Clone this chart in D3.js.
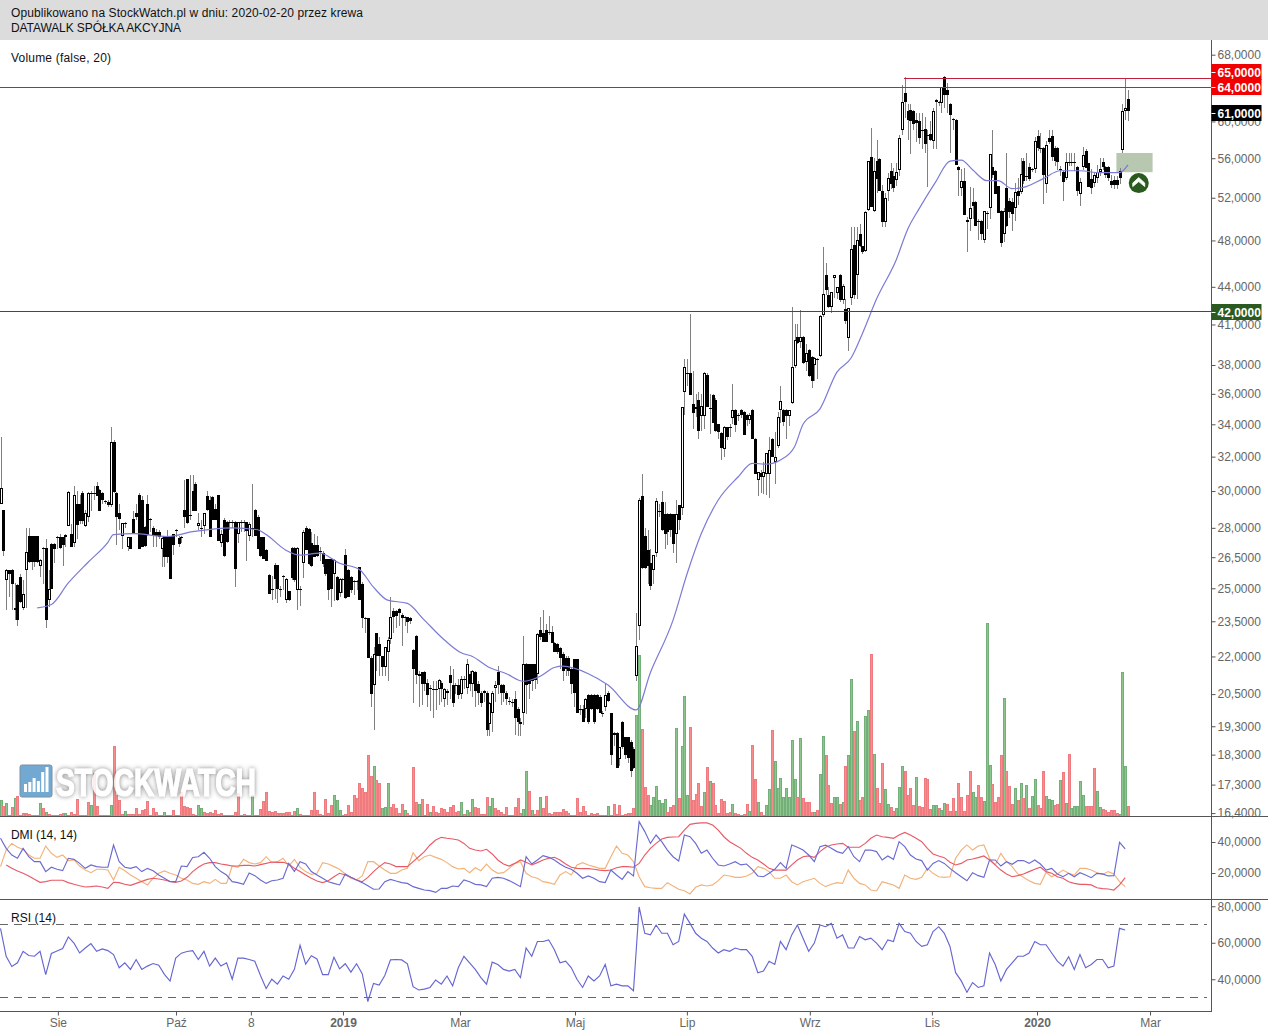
<!DOCTYPE html>
<html lang="pl"><head><meta charset="utf-8"><title>DATAWALK</title>
<script src="https://cdn.jsdelivr.net/npm/d3@7"></script>
<style>html,body{margin:0;padding:0;background:#fff}svg{display:block;font-family:"Liberation Sans",Arial,sans-serif}</style>
</head><body><div id="chart"></div>
<script>
// ---- candles: [open, high, low, close] per session ----
const candlesA=[[29.3,33.2,29.3,30.2],[28.95,28.95,26.55,26.8],[25.4,25.9,24,25.85],[25.85,25.85,24.6,25.7],[25.85,25.9,24,25.2],[24.1,25.25,23.55,24],[25.15,25.2,23.3,23.55],[25.55,25.7,24.3,24.35],[24.1,25.4,24,24.75],[25.85,28,24.1,26.75],[27.55,28,26.2,26.25],[27.55,27.55,25.85,26.25],[27.55,27.55,26,26.25],[27.55,27.55,26.2,26.25],[26.05,26.4,25.55,26.35],[26.95,27,25.2,26.9],[26.95,27.4,23.2,23.55],[24.45,25.85,24.15,24.95],[27.15,27.2,24.95,24.95],[27.15,27.2,26.2,26.9],[27.5,27.6,26.9,27.45],[27.5,27.7,26.9,26.95],[27.5,27.5,26.05,27.1],[27.5,27.7,27,27.65],[28.1,30,28.1,29.95],[27.7,28.2,27,27],[27.2,30.3,27,29.8],[29.3,30,27.4,28.15],[29.3,29.8,28.2,28.35],[29.9,30,28.2,28.35],[28.1,28.95,28.05,28.8],[28.55,29.95,28.3,29.9],[29.9,30,28.9,29.85],[29.9,30.3,29.5,29.85],[30.3,30.5,29.7,29.75],[30.05,30.1,28.9,28.9],[29.9,29.95,29.3,29.5],[29.45,29.5,29.3,29.4],[29.4,29.5,29.1,29.25],[29.2,33.8,29.1,32.9],[32.9,33,29.9,29.95],[29.9,29.95,27.1,28.55],[28.8,29.3,27.9,28.45],[27.55,28.25,26.9,28.25],[28.25,28.3,28,28.2],[27,27.5,26.8,27.5],[27.5,27.5,26.9,26.9],[28.45,28.9,27.7,27.7],[28.8,29.3,28.4,28.6],[29.8,29.9,26.9,26.9],[29.5,29.7,27,27],[28.05,28.1,27,27.05],[29.3,29.8,27.6,27.65],[28.45,28.5,27.8,28.4],[28,28.1,27,27.6],[27.8,27.95,27,27.55],[27.8,27.9,27.4,27.5],[26.9,27.5,26,27.45],[27.5,27.5,26,26.5],[27.5,27.9,26.2,26.5],[27.55,27.6,25.45,25.45],[27.7,27.7,26.6,27.1],[27.9,27.95,27.5,27.85],[27.45,27.6,27,27.15],[27.5,27.55,27.2,27.45],[28.95,30.6,28,28.55],[30.7,30.7,28.2,28.25],[28.7,30.9,28.4,28.65],[30,30.9,28.9,28.9],[30.4,30.5,28.9,28.9],[28.1,28.8,27.9,28.25],[28,28.4,27.5,27.95],[28.1,28.8,27.7,28.8],[29.7,30,28.9,28.95],[29.5,29.7,27.5,27.5],[29.65,29.7,28.4,28.4],[29,29.3,28.4,28.4],[29.8,29.8,27.3,27.3],[27.2,27.9,27,27.7],[28.4,28.5,26.5,26.55],[28.3,28.35,27.2,27.25],[28.3,28.4,27.9,28.25],[28.3,28.4,28,28.25],[28.3,28.35,25.05,25.9],[27.7,28.3,27.2,28.3],[28.3,28.4,27.8,28.25],[28.3,28.4,27.8,28.25],[28.3,28.3,26.3,27.85],[27.6,28.3,27.3,28.2],[28,30.4,27.5,27.95],[28.95,29,27.6,27.6],[28.6,28.7,26.9,26.9],[27.5,27.5,26.5,26.55],[27.5,27.5,26.4,26.4],[26.85,26.9,26.3,26.3],[25.65,25.7,24.75,24.75],[24.95,25.6,24.45,24.9],[26.1,26.2,24.5,25.45],[26.1,26.1,24.3,24.95],[24.95,25.1,24.6,24.9],[25.6,25.65,24.9,25.55],[24.45,25.5,24.3,25.45],[24.85,24.85,24.4,24.45],[26.95,27,25.4,25.5],[26.95,27,25.3,25.4],[24.9,27,24,26.95],[24.95,25.1,24.2,24.9],[26.2,27.9,25.5,27.8],[28,28.1,26.85,26.85],[27.95,28,26.1,26.15],[27.2,27.8,26,26.05],[27.1,27.7,26.5,26.5],[27.1,27.6,26.5,26.55],[26.8,27,26.3,26.75]];
const candlesB=[[26.7,26.8,26,26.15],[26.4,26.4,25.6,25.7],[26.4,26.4,24.45,24.9],[26.4,26.4,24.15,24.95],[25.7,26.4,24.4,26.35],[25.55,25.6,24.4,24.45],[24.8,25.5,24.6,25.45],[25.45,25.5,24.8,25.4],[26.6,26.9,24.5,24.55],[25.85,25.9,24.6,24.6],[25.55,25.6,24.8,24.9],[25.35,25.4,24.7,25.3],[25.35,25.4,24.9,25.3],[26,26,24.45,24.45],[25.2,25.3,23.2,23.65],[23.65,23.7,23,23.6],[23.65,23.65,21.95,21.95],[21.95,22,20,20.5],[20.85,22.4,19.15,22.1],[23,23,21.4,22],[22.5,22.8,21.2,22],[22,22,21.2,21.55],[21.55,22.4,21.2,22.4],[22.2,22.8,21,22.7],[22.75,24.6,22.5,23.7],[23.95,24.1,23,23.7],[23.95,24,23.2,23.75],[24.05,24.1,23.3,23.85],[23.8,23.85,22.45,23.65],[23.7,23.75,23.3,23.65],[23.7,23.7,23,23.45],[23.65,23.7,23.4,23.5],[22.25,22.3,20.15,21.5],[22.85,22.9,20.9,21.25],[21.3,21.4,20,21.2],[21.35,21.35,20.1,20.9],[21.35,21.4,20.6,20.9],[20.95,21.1,20,20.45],[20.75,20.85,19.85,20.7],[20.7,21,19.6,20.65],[20.7,21,19.9,20.65],[20.7,21.1,20.1,21.05],[20.95,21,20.2,20.7],[20.3,20.75,20,20.7],[20.6,20.7,20.1,20.55],[21.25,21.6,20.3,20.95],[20.85,21.5,20,20.15],[20.85,20.95,20.5,20.8],[20.85,21.1,20.3,20.45],[20.5,21.2,20.3,21.1],[21.1,21.2,20.7,21.05],[20.75,21.9,20.5,21.7],[21.3,21.4,20.6,20.9],[20.9,21.45,20.4,21.4],[21.35,21.4,20,20.6],[20.9,21,20.1,20.55],[20.55,20.6,20,20.15],[20.6,20.65,20.2,20.55],[20.55,20.6,18.95,19.15],[19.4,20.2,18.95,20.15],[19.8,20.6,19.1,20.55],[20.75,21,20.2,20.85],[21.35,21.6,20.5,20.85],[20.85,20.9,20.1,20.55],[20.85,20.9,20.2,20.55],[20.55,20.6,20.1,20.3],[20.25,20.4,20.1,20.2],[20.2,20.3,20,20.15],[20.3,20.6,19,19.6],[19.95,20,18.95,19.45],[19.45,19.6,18.95,19.4],[19.8,22.85,19.35,21.7],[21.7,21.75,19.75,20.85],[21.7,21.7,20.3,20.9],[21.7,21.7,20.6,21],[21.7,21.7,20.7,21.05],[21.3,23,20.9,22.95],[23.1,23.7,22.7,22.8],[23,24,22.6,22.6],[23.1,23.4,22.6,22.6],[23.05,23.75,22.9,23],[23.05,23.3,22.55,22.55],[22.55,22.6,22.2,22.2],[22.5,22.55,22.1,22.2],[22.35,22.4,21.5,21.95],[22.1,22.2,21,21.4],[21.95,22,21.2,21.5],[21.95,22,21.2,21.4],[21.5,21.55,20.5,20.9],[21.9,21.9,20,20.55],[21.9,21.9,19.8,19.8],[19.95,20.1,19.7,19.9],[19.95,20.1,19.45,19.45],[19.95,20.35,19.6,20.3],[20.45,20.5,19.4,19.45],[20.45,20.5,19.9,19.95],[20.45,20.5,19.4,19.45],[20.45,20.5,19.9,19.95],[20.4,20.45,19.8,19.8],[19.8,19.85,19.65,19.75],[20,20.9,19.85,20.45],[20.55,20.6,20.2,20.25],[19.8,19.8,17.95,18.3],[19.05,19.1,18.6,19],[19.05,19.1,17.85,17.85],[18.15,18.55,17.9,18.55],[19.45,19.5,18.5,18.55],[18.9,18.9,18.15,18.3],[18.9,18.9,18,18.2],[18.75,18.8,17.55,17.75],[18.5,18.55,17.8,17.85],[21.2,23.85,21,22.45]];
const candlesC=[[23.3,29.6,22.7,29.5],[29.7,31,25.9,25.95],[27.6,28,25.9,25.95],[26.85,27.9,25.2,26.05],[26.2,26.9,24.9,25.1],[25.85,26.6,25.2,26.6],[26.7,29.6,26.5,29.45],[28.9,29.3,28.6,28.85],[29.4,30,27.85,27.9],[28.75,29.4,26.9,27.7],[28.75,28.8,27.1,27.8],[28.75,28.8,27.5,27.9],[28.75,28.75,26.7,27.15],[27.7,29.5,26.2,28.75],[29.25,29.25,27.9,28.4],[29.05,35.1,28.7,35.1],[36.1,38.4,34.6,37.85],[37.4,38.4,36.5,37.35],[37.45,41.8,35.9,35.95],[35.3,37.6,33.7,34.75],[35.1,36,34.5,35],[35.6,36.1,33.1,33.6],[34.55,36,33.6,35.2],[34.55,37.5,33.7,37.45],[37.3,37.4,35.15,35.15],[35.05,36,33.4,35],[35.9,36,34.1,34.1],[35.6,35.7,33.5,33.55],[34,34.05,33.05,33.5],[33.45,33.5,31.8,32.5],[32.45,33.9,32,33.85],[33.8,33.85,33,33.2],[33.8,34,33.2,33.75],[34.4,36.7,34,34.95],[34.95,35,33.5,33.95],[34.6,34.7,34.2,34.55],[34.95,35,34.4,34.6],[34.8,34.85,33.3,33.35],[34.6,34.65,33.9,34.3],[34.3,34.7,34,34.6],[34.95,35,33.1,33.1],[33.1,33.15,30.95,30.95],[30.6,31.1,29.7,31.1],[31.05,31.2,29.9,30.8],[30.8,31.7,29.85,31.1],[30.95,32.2,29.8,32.2],[30.95,33.2,29.6,32.4],[33.05,33.15,31.95,31.95],[31.7,33.5,30.4,31.95],[32.65,34.8,32.5,34.5],[34.95,36.5,34.1,35.5],[34.95,35,33.9,34.15],[34.9,35,33.1,34.55],[34.55,34.95,33.9,34.95],[35.4,42.4,35.3,37.85],[37.9,41,37.8,39.8],[40.05,41,39.5,39.6],[39.7,42.1,39.2,40.05],[40.05,40.1,38.1,38.15],[38.2,39.5,37.6,38.9],[39.1,39.15,37.15,37.2],[38.6,38.65,36.4,36.85],[38,38.6,36.9,38.5],[38.45,38.5,37,38.4],[38.65,41.7,38.6,41.65],[41.7,47.4,41.6,43.4],[45,46,43.3,43.7],[43.35,44,42.3,42.4],[42.4,43.6,41.9,43.55],[44.7,45,43.1,45],[43.5,44,43,44],[45,45.1,42.8,42.9],[42.95,44.2,42.6,44.1],[42.2,43,41,41.25],[40,42.3,39,42.25]];
const candlesD=[[43.1,49.2,42.5,47.2],[47.6,49.2,43,43.35],[45,49.2,43,48],[48.6,49.5,47.4,47.5],[47.5,47.5,46.8,46.95],[47.1,50.7,47,50.65],[50.8,55.7,50.7,55.7],[56.1,59.3,51.1,51.1],[50.7,56,50.6,54.7],[55.7,58,52.5,53.9],[55.9,56,52.7,52.7],[52.7,53.3,49.2,49.7],[49.7,52.5,49.2,52],[52.7,54.5,51.7,54],[54.7,55.5,52.9,53.4],[54.2,55,52.6,53],[53.75,55.5,53.2,54.6],[54.8,58.5,54.2,58.2],[59,64.2,58.5,62.2],[63.3,65.2,60.4,62.2],[61.2,62,58,60.2],[61.3,62,56.4,60.1],[61.2,61.3,59,59.7],[60.2,61,57.7,59.8],[60,61,57.5,58.2],[59.05,61,57,59],[59.1,60.5,56.6,57.5],[58.5,59,53.1,58.4],[58.6,60,57.8,57.9],[57.8,61.5,57,61.2],[62.5,62.6,57,62.25],[62.2,62.3,61.8,62.15],[62.1,64,61,64],[65.2,65.3,61.5,63],[63.6,64.5,61,63.1],[62,62.1,56.5,60.7],[60.3,60.4,59,60.25],[60.2,60.25,55.3,55.3],[55.1,55.2,52.2,54.8],[53,54.9,52.2,53.7],[53.7,55,50.3,50.3],[49.9,50.2,47,49.7],[50,53.1,48.9,51],[51.6,53,50,51.2],[51.6,51.7,49.3,49.3],[49.8,50,48,49.75],[49.8,49.85,48,48.55],[48,50.7,47.8,50.7],[50.5,50.7,49,50.4],[51,56.4,50,56.4],[55.1,59,54,54.25],[54.7,54.8,52.4,52.4],[53.2,53.2,50.5,50.5],[50.7,50.8,47.4,47.8],[48.6,51,47.9,50.7],[53,56.5,49.2,49.3],[51.7,52,50.1,50.6],[51.6,52,48.9,50.4],[51,53.5,49.8,52.6],[52.7,54,51.3,52.2],[52.6,56,52.4,54.35],[55.7,56,53.4,53.7],[54.2,56.5,53.7,54.15],[55.1,55.5,53.7,53.9],[54.9,55,54.6,54.85],[54.9,58.3,54.5,57.8],[58.4,59,56.8,57.1],[57.1,58.7,56.5,57.05],[57.1,57.2,51.4,54.3],[53.4,57.8,52.5,57.4],[58.2,59,57.5,57.7],[58.4,59,55.7,56.15],[57.1,57.3,55.2,55.7],[57.1,57.2,54.8,55.6],[54.9,55.2,54.2,54.85],[54.6,54.7,51.7,53.6],[54,56.5,53.8,55.6],[55.6,56.5,55.2,55.55],[55.6,56.5,55.2,55.55],[55.6,56.5,54.7,55.55],[55.1,55.2,52.2,52.7],[52.4,54,51.2,53.6],[55.1,57.2,54.8,56.3],[56.8,57,55,55],[55.5,55.5,53.1,53.1],[53.9,54.9,52.4,53],[53.5,54.6,53.1,54.3],[54,55.3,53.5,54.6],[54.6,56,54.2,54.9],[55.6,56,54.8,55.1],[55.1,55.2,54,54.3],[55.1,55.2,53.7,54],[53.7,54.3,53,53.3],[53.8,54.2,52.9,53.3],[53.8,54.2,52.9,53.3],[54.7,55,53.4,54],[56.9,62,56.5,61.2],[61.2,65,60.2,61.5],[62.6,63.6,60,61.2]];

// ---- 20-session average: session index / price ----
const maIndex=[13,18,24,31,38,40,47,59,68,82,91,94,101,106,113,120,127,132,137,144,150,157,163,167,173,179,185,191,196,199,208,215,225,230,238,243,248,254,261,266,271,276,281,284,290,296,301,305,310,317,321,325,331,336,340,344,349,353,358,363,369,375,382,389,396,399];
const maPrice=[24.1,24.25,25.25,26.25,27.25,27.65,27.7,27.55,27.8,28,27.9,27.65,26.85,26.6,26.7,26.2,25.9,25.05,24.45,24.3,23.55,22.7,22.15,22,21.55,21.3,21,21.2,21.55,21.6,21.3,20.85,19.9,21.35,23.55,25.7,27.7,29.5,30.8,31.6,31.55,31.8,32.6,34,35,37.5,38.5,40.3,43,46.3,49,50.9,53.6,55.7,55.8,54.8,53.7,53.7,52.9,53.1,53.9,54.7,54.7,54.5,54.5,55.3];

// ---- volume per session (chart units) ----
const volumeA=[16,10,13,1,9,18,20,1,3,3,2,1,1,1,13,8,4,2,1,1,1,2,3,3,1,4,2,17,1,1,1,14,11,43,10,1,1,1,1,11,70,21,16,2,5,2,2,2,8,2,6,7,15,1,8,4,1,1,4,1,1,6,1,1,24,10,9,8,2,1,11,8,4,3,4,3,6,2,3,1,1,1,1,4,23,1,2,1,1,21,1,1,7,15,24,5,4,5,3,3,3,4,4,1,5,8,2,1,1,1,6,24,6,2,1,17,3,11,21,16,6,1,2,11,4,21,18,33,28,24,61,40,50,36,33,8,9,33,9,12,8,3,12,6,3,1,49,14,12];
const volumeB=[17,1,12,4,10,4,3,8,7,4,9,11,4,5,14,2,6,4,17,9,8,2,2,19,10,18,8,6,4,2,9,1,1,9,18,3,7,45,25,6,2,6,19,8,20,3,2,4,4,4,7,5,3,1,1,18,4,10,5,1,3,2,3,1,1,1,10,1,12,2,11,1,2,3,3,8,101,161,87,29,21,11,19,30,16,13,17,4,9,11,88,18,70,120,21,89,16,22,33,10,24,49,35,33,11,3,17,15,3,4,12,3,2,1,2,12,5,71,37,14,4,1,11,27,86,55,28,38,19,28,19,76,37,19,78,18,14,14,4,4,6,42,80,61,31,13,19,19];
const volumeC=[12,14,50,61,137,85,95,16,19,100,106,162,62,28,13,53,27,12,9,5,8,29,50,45,21,28,11,39,10,9,38,37,7,11,11,8,6,13,12,5,18,5,33,19,5,21,45,24,19,31,19,15,193,51,32,14,19,61,118,45,30,12,28,16,33,18,31,8,20,37,11,8,45,20,17,16,11,12,36,44,13,62,8,10,10,35,21,10,10,10,48,25,9,7,6,4,6,6,3,2,144,50,10];
const greenVolumeSessions=[0,2,5,14,16,23,24,32,39,44,58,70,71,89,105,118,119,120,132,135,136,137,143,148,152,163,165,167,173,174,185,186,188,191,215,225,226,230,231,232,233,234,235,239,241,242,243,249,251,259,265,268,271,272,274,275,276,277,278,279,280,281,283,288,290,291,295,296,298,300,301,303,306,307,309,313,314,317,318,319,324,330,331,333,334,338,344,345,348,349,350,355,359,361,363,365,366,370,371,372,375,377,379,380,381,382,383,388,389,396,397,398];

// ---- DMI, read every second session (k = session / 2) ----
const dmiPlusA=[42.4,35.9,31.6,29.5,35.9,30.5,27.3,27.3,20.9,23.7,22.4,21.5,29.5,28.8,26.2,23,25.2,24.1,23.7,23.7,38,27.3,23.7,23,24.1,20.9,23,21.5,18.7,16.6,14.4,14.4,24.5,24.1,30,30.5,33.3,29.5,24.1,20.9,18.7,14.4,13.8,12.7,20,18.3,15.5,13.3,15,15.5,16.6,26.2,21,27.3,25.8,20.9,18.7,16.6,14.4,13.3,12.3,19.3,17.2,15.5,13.8,11.7,9.5,9.7,14.4,15.9,14.8,13.8,13.3,11.2,10.1];
const dmiPlusB=[9,8.6,7.5,10.1,10.1,11.6,11.2,15.5,14.4,12.7,12.3,11.2,16.6,17.2,16.6,15.1,13.3,11.2,30.5,25.8,28.4,31.2,30.1,28.4,25.8,23.7,22.4,19.8,16.6,18.1,16.6,14.4,13.8,21.9,18.7,15.9,20.9,18.1,53.1,46.7,39.1,44.5,40.2,34.8,30.5,27.7,44.5,43.4,39.1,32.7,34.8,29.5,25.2,24.5,25.8,27.3,25.2,25.8,22.4,18.1,17.6,19.8,22.4,26.7,23,38.1,36.6,34.8,31.6,27.3,37,38,35.9,33.8];
const dmiPlusC=[32.7,37,30.5,27.3,34.8,34.8,33.8,28.4,31,28.8,40.2,37,31.6,29,28,21.9,26.2,28,26.2,23,20.2,17.6,15,20.2,18.3,17.2,28.4,28.4,24.5,27.3,25.6,28,28,26.2,28.4,25.8,21.9,23,19.4,17.6,19.8,17.6,20.2,18.7,17,19.8,19.4,18.1,18.3,39.8,35.5];
const dmiMinusA=[24.1,34.8,39.1,36.6,35.3,31.6,29.5,29.5,37.4,32.7,30.1,31.6,28,28.4,24.5,21.9,20.2,22.4,22.4,21.9,15.5,23.7,21.5,18.7,16.6,14.4,12.3,16.6,19.8,21.3,19.8,18.7,16.6,15.5,13.3,12.7,14.4,13.3,15.9,13.3,13.3,24.5,23.7,28.8,26.7,25.8,26.7,30.5,26.7,27.3,29.5,24.5,28.8,23.7,20.9,19.1,19.8,26.7,25.8,24.1,22.4,19.4,16.6,15.5,18.1,27.3,27.3,24.5,21.9,19.8,19.8,21.9,23,33.1,28];
const dmiMinusB=[30.5,31.6,30.1,28.8,26.7,24.1,22.6,23,20.2,23.4,21.5,25.8,21.9,19.8,20.2,23,26.2,27.3,19.8,17.6,16.6,14.4,13.8,12.7,18.7,20.9,18.7,25.2,26.7,25.2,24.1,23,23,30.5,37.4,32.7,31.6,27.3,17.6,11.2,10.5,10.1,10.1,13.8,11.6,9.5,8.6,6.5,10.8,12.3,11.6,12.3,15.1,18.7,18.1,17.2,17.2,18.1,19.8,24.1,23,20.9,16.6,16.6,18.7,14.4,12.3,14.4,15.5,16.6,13.3,11.2,12.7,13.8];
const dmiMinusC=[13.3,21.9,16.6,13.3,12.3,9,8.4,14.4,13.3,12.3,10.1,18.7,16.6,15.9,17.2,23,19.8,17.6,17.2,17.6,29.5,34.8,38.1,34.8,37.4,38.1,29.5,25.2,32.7,27.3,24.1,19.4,17.2,15,13.3,12.7,20.4,17.6,19.4,21.9,19.8,18.7,23,23,21.9,20.2,19.1,20.9,19.4,14.4,11.2];
const adxA=[null,25.2,23,21.3,19.8,18.1,15.9,14,14.4,15.3,15.3,15.3,13.8,12.7,11.8,11,11.2,11.6,11,10.1,14,13.8,12.7,12,13.3,14.6,15.9,16.6,16.1,15.5,14.6,14,14.8,17.2,20.9,23.7,25.8,26.7,26.7,25.8,25.2,24.5,24.5,24.9,24.9,24.5,25.4,26.2,27.1,26.9,26.9,25.8,23,20.9,18.7,16.6,14.8,13.8,15,17.6,19.8,18.7,17.2,15.5,14.4,17.2,20.9,24.1,26.7,25.8,24.1,24.1,24.1,27.3,30.5];
const adxB=[33.8,38.1,41.3,43,42.4,41.9,41.3,39.1,35.9,34.8,34.2,35.3,32.3,28.4,25.8,24.5,26.2,28.4,26.9,25.2,26.7,28.4,29.5,30.1,28.4,25.8,23.7,23,22.8,22.8,22.4,21.9,21.5,21.9,23.4,24.1,24.1,23.7,26.2,31.6,35.9,39.1,41.9,43,43.2,43.4,47.7,51.4,52,52.3,52.3,51,47.7,43.4,40.2,38.1,35.9,32.7,30.1,28.4,25.8,23,21.9,21.9,21.9,25.2,28.4,30.5,31,30.1,33.8,36.6,38.1,38.7];
const adxC=[39.1,36.6,36.6,36.6,39.1,42.4,44.5,43.4,43,42.4,44.5,46.2,44.5,42.4,40.2,35.9,32.3,31,29.9,26.9,25.2,26.2,28.4,29,29.9,31,28.4,25.2,21.9,19.4,17.6,18.3,19.4,20.9,22.4,23.7,20.9,19.8,17.6,16.6,14.4,13.3,12.7,12.7,12.3,10.5,9.9,9.7,9,12.3,17];

// ---- RSI, read every second session ----
const rsiA=[67.9,52.6,47,49,55.3,53,52.6,55.3,42.5,54.1,55.5,56.8,63.2,59.8,54.4,57.1,59.5,55.3,56.6,55.7,53.5,46.3,49,45.4,50.8,45.4,47.2,48.6,47.7,42.7,39,51.6,54.3,55.2,55.7,50.8,55.3,47.2,51.6,47.2,49,40,51.6,51.6,50.8,49.9,42.1,34.9,40,37.3,41.8,40,45.4,58.6,48.3,52.9,51.1,42.5,42.5,52,45.7,48.5,43.9,48.5,43.1,27.8,37.7,36.8,42.1,50.6,50.8,50.6,48.5,35.9,34.1];
const rsiB=[34.6,35.5,39.6,37.3,41.8,36.4,46.3,52.6,49,45.4,40.9,37.3,49.4,48.1,45.4,44.5,45.4,40.9,57.1,52.6,60.7,60.7,61.6,56.2,49,49.9,46.3,40,35.5,41.8,39.1,41.8,48.1,36.4,37.3,36.4,36.4,33.7,79.6,65.2,64.3,69.7,65.2,65.2,58.9,60.7,75.7,70.6,65.2,62.5,60.7,57.1,54.4,56.2,55.3,57.1,56.2,56.2,52.6,43.6,44.5,49.9,48.1,60.7,56.2,64.3,69.7,62.5,55.3,59.8,69.7,68.8,70.6,62.5];
const rsiC=[64.3,57.1,57.1,63.4,61.6,62.5,59.8,56.2,61.6,60.7,70.6,66.1,65.2,60.7,58,58.9,66.1,68.8,65.2,58,43.6,39.1,32.8,38.2,35.5,36.4,54.4,48.1,39.1,45.4,49,52.6,52.6,54.4,60.7,58.9,58.9,54.4,49.9,47.2,52.3,45.4,53.5,46.3,48.1,50.8,50.8,46.3,47.2,67.9,67];

// ---- axes ----
const priceTicks=[68,60,56,52,48,44,41,38,36,34,32,30,28,26.5,25,23.5,22,20.5,19.3,18.3,17.3,16.4];
const dmiTicks=[40,20];
const rsiTicks=[80,60,40];
const rsiGuides=[70,30];
const dateTicks=[20.3,62.1,88.6,121.2,162.6,203.3,242.9,286.4,329.6,366.8,406.8];
const dateLabels=["Sie","Paź","8","2019","Mar","Maj","Lip","Wrz","Lis","2020","Mar"];
const boldDateLabels=["2019","2020"];
const redLevels=[65,64];
const greenLevel=42;
const lastPrice=61;
const headerLines=["Opublikowano na StockWatch.pl w dniu: 2020-02-20 przez krewa","DATAWALK SPÓŁKA AKCYJNA"];

// ---- assemble ----
const candles=[...candlesA,...candlesB,...candlesC,...candlesD];
const volumes=[...volumeA,...volumeB,...volumeC];
const dmiPlus=[...dmiPlusA,...dmiPlusB,...dmiPlusC];
const dmiMinus=[...dmiMinusA,...dmiMinusB,...dmiMinusC];
const adx=[...adxA,...adxB,...adxC];
const rsi=[...rsiA,...rsiB,...rsiC];

const W=1268,H=1030,axisX=1211.5;
const x=d3.scaleLinear().domain([0,candles.length-1]).range([0.5,1128]);
const yP=d3.scaleLog().domain([16.28,69.9]).range([817,40]);
const yV=d3.scaleLinear().domain([0,200]).range([816,616]);
const yD=d3.scaleLinear().domain([40,20]).range([842,873]);
const yR=d3.scaleLinear().domain([60,40]).range([942.75,979.25]);
const upSet=new Set(greenVolumeSessions);

const svg=d3.select("#chart").append("svg").attr("width",W).attr("height",H);
const defs=svg.append("defs");
defs.append("clipPath").attr("id","cp").append("rect").attr("x",0).attr("y",40).attr("width",axisX).attr("height",776);
defs.append("clipPath").attr("id","cd").append("rect").attr("x",0).attr("y",817).attr("width",axisX).attr("height",82);
defs.append("clipPath").attr("id","cr").append("rect").attr("x",0).attr("y",900).attr("width",axisX).attr("height",111);
const blur=defs.append("filter").attr("id","wm").attr("x","-10%").attr("y","-30%").attr("width","120%").attr("height","160%");
blur.append("feGaussianBlur").attr("in","SourceAlpha").attr("stdDeviation",2.4).attr("result","b");
blur.append("feFlood").attr("flood-color","#6f6f6f").attr("result","f");
blur.append("feComposite").attr("in","f").attr("in2","b").attr("operator","in").attr("result","s");
const mg=blur.append("feMerge");mg.append("feMergeNode").attr("in","s");mg.append("feMergeNode").attr("in","SourceGraphic");

svg.append("rect").attr("width",W).attr("height",H).attr("fill","#fff");
const header=svg.append("g");
header.append("rect").attr("width",W).attr("height",40).attr("fill","#dcdcdc");
header.selectAll("text").data(headerLines).join("text").attr("x",11).attr("y",(d,i)=>17+i*15).attr("font-size",12).attr("fill","#111")
  .attr("textLength",(d,i)=>i===0?352:170).attr("lengthAdjust","spacing").text(d=>d);

// volume
const volG=svg.append("g").attr("clip-path","url(#cp)");
volG.selectAll("rect").data(volumes).join("rect")
 .attr("x",(d,i)=>Math.round(x(i))-0.5).attr("width",2)
 .attr("y",d=>Math.round(yV(d))+0.5).attr("height",d=>Math.max(0.5,yV(0)-Math.round(yV(d))-0.5))
 .attr("fill",(d,i)=>upSet.has(i)?"#8cc68c":"#fb8a8a")
 .attr("stroke",(d,i)=>upSet.has(i)?"#74ae78":"#ee7b80").attr("stroke-width",1).attr("shape-rendering","crispEdges");

// watermark
const wm=svg.append("g").attr("opacity",0.86);
wm.append("rect").attr("x",20).attr("y",765).attr("width",32).attr("height",32).attr("rx",2).attr("fill","#5b9ccb").attr("stroke","#6b7f8f").attr("stroke-width",1);
wm.selectAll(".b").data([8,10,14,11,20,25]).join("rect").attr("class","b").attr("x",(d,i)=>24+i*4.3).attr("width",3).attr("y",d=>792-d).attr("height",d=>d).attr("fill","#fff");
wm.append("text").attr("x",56).attr("y",796).attr("font-size",38).attr("font-weight","bold").attr("fill","#fff").attr("stroke","#fff").attr("stroke-width",1.2)
 .attr("textLength",200).attr("lengthAdjust","spacingAndGlyphs").attr("filter","url(#wm)").text("STOCKWATCH");

// zone under candles
const zoneG=svg.append("g");
zoneG.append("rect").attr("x",x(394.9)).attr("width",x(407.7)-x(394.9)).attr("y",yP(56.55)).attr("height",yP(54.55)-yP(56.55)).attr("fill","#b7c7b0");

// candles
const cG=svg.append("g").attr("clip-path","url(#cp)");
cG.selectAll("line").data(candles).join("line")
 .attr("x1",(d,i)=>Math.round(x(i))+0.5).attr("x2",(d,i)=>Math.round(x(i))+0.5)
 .attr("y1",d=>yP(d[1])).attr("y2",d=>yP(d[2])).attr("stroke","#808080").attr("stroke-width",1).attr("shape-rendering","crispEdges");
cG.selectAll("rect").data(candles).join("rect").each(function(d,i){
  const top=Math.round(yP(Math.max(d[0],d[3]))),bot=Math.round(yP(Math.min(d[0],d[3])));
  const r=d3.select(this),xx=Math.round(x(i));
  if(bot-top<2){r.attr("x",xx-1).attr("width",3).attr("y",top).attr("height",1).attr("fill","#000");}
  else{r.attr("x",xx-0.5).attr("width",2).attr("y",top+0.5).attr("height",bot-top-1)
    .attr("fill",d[3]>=d[0]?"#fff":"#000").attr("stroke","#000").attr("stroke-width",1);}
}).attr("shape-rendering","crispEdges");

// moving average
svg.append("path").attr("clip-path","url(#cp)").datum(maIndex.map((m,i)=>[m,maPrice[i]]))
 .attr("d",d3.line().x(d=>x(d[0])).y(d=>yP(d[1])).curve(d3.curveMonotoneX))
 .attr("fill","none").attr("stroke","#7b7bd6").attr("stroke-width",1.2);

// horizontal levels
const levelLine=(p,x0,c)=>svg.append("line").attr("x1",x0).attr("x2",axisX).attr("y1",Math.floor(yP(p))+0.5).attr("y2",Math.floor(yP(p))+0.5)
   .attr("stroke",c).attr("stroke-width",1).attr("shape-rendering","crispEdges");
levelLine(redLevels[0],904,"#c0213f");
levelLine(redLevels[1],0,"#c0213f");
levelLine(greenLevel,0,"#2f5a2f");

// signal marker
const mk=svg.append("g").attr("transform",`translate(${x(402.8)},${yP(53.45)})`);
mk.append("circle").attr("r",10).attr("fill","#2a5a1e");
mk.append("path").attr("d","M-6,0 L0,-5.5 L6,0 L6,3.5 L0,-1.5 L-6,3.5 Z").attr("fill","#fff").attr("stroke","#fff").attr("stroke-width",0.8).attr("stroke-linejoin","round");

// DMI
const dmiLine=d3.line().defined(d=>d!=null).x((d,k)=>x(k*2)).y(d=>yD(d));
const dG=svg.append("g").attr("clip-path","url(#cd)").attr("fill","none").attr("stroke-width",1.15);
dG.append("path").attr("d",dmiLine(dmiMinus)).attr("stroke","#f2b27a");
dG.append("path").attr("d",dmiLine(adx)).attr("stroke","#e95a66");
dG.append("path").attr("d",dmiLine(dmiPlus)).attr("stroke","#6a6ad2");

// RSI
const rG=svg.append("g").attr("clip-path","url(#cr)");
rG.selectAll("line").data(rsiGuides).join("line").attr("x1",0).attr("x2",1207).attr("y1",d=>Math.floor(yR(d))+0.5).attr("y2",d=>Math.floor(yR(d))+0.5)
 .attr("stroke","#666").attr("stroke-dasharray","8,6").attr("shape-rendering","crispEdges");
rG.append("path").attr("d",d3.line().x((d,k)=>x(k*2)).y(d=>yR(d))(rsi)).attr("fill","none").attr("stroke","#6666d2").attr("stroke-width",1.15);

// pane frames
const frame="#555";
[[816.5,W],[899.5,W],[1011.5,axisX]].forEach(([y,x2])=>svg.append("line").attr("x1",0).attr("x2",x2).attr("y1",y).attr("y2",y).attr("stroke",frame));

const fmt=v=>v.toFixed(4).replace(".",",");
function rightAxis(scale,ticks){
  const a=d3.axisRight(scale).tickValues(ticks).tickFormat(fmt).tickSize(4).tickPadding(2);
  const g=svg.append("g").attr("transform",`translate(${axisX},0)`).call(a);
  g.select(".domain").remove();
  g.selectAll("line").attr("stroke",frame);
  g.selectAll("text").attr("font-size",12).attr("font-family","'Liberation Sans',Arial,sans-serif").attr("fill","#666");
}
rightAxis(yP,priceTicks);rightAxis(yD,dmiTicks);rightAxis(yR,rsiTicks);
svg.append("line").attr("x1",axisX).attr("x2",axisX).attr("y1",40).attr("y2",1012).attr("stroke",frame);

// price tags (the 65 tag sits one box above its level, stacked on the 64 tag)
function tag(p,fill,shift){
  const cy=Math.round(yP(p))+shift;
  svg.append("rect").attr("x",axisX).attr("y",cy-8).attr("width",50).attr("height",16).attr("fill",fill);
  svg.append("line").attr("x1",axisX).attr("x2",axisX+4).attr("y1",cy+.5).attr("y2",cy+.5).attr("stroke","#fff");
  svg.append("text").attr("x",axisX+6).attr("y",cy+4.5).attr("font-size",12).attr("font-weight","bold").attr("fill","#fff").text(fmt(p));
}
tag(redLevels[0],"#f00000",-7);
tag(redLevels[1],"#f00000",0);
tag(greenLevel,"#2b5a20",0);
tag(lastPrice,"#000",0);

// date axis
const ax=d3.axisBottom(x).tickValues(dateTicks).tickFormat((d,i)=>dateLabels[i]).tickSize(4).tickPadding(3);
const ag=svg.append("g").attr("transform","translate(0,1011.5)").call(ax);
ag.select(".domain").remove();
ag.selectAll("line").attr("stroke",frame);
ag.selectAll("text").attr("font-size",12).attr("font-family","'Liberation Sans',Arial,sans-serif").attr("fill","#666")
  .attr("font-weight",(d,i)=>boldDateLabels.includes(dateLabels[i])?"bold":"normal");

// pane titles
[["Volume (false, 20)",62,100],["DMI (14, 14)",839,66],["RSI (14)",922,45]].forEach(([t,y,w])=>
  svg.append("text").attr("x",11).attr("y",y).attr("font-size",12).attr("fill","#111").attr("textLength",w).attr("lengthAdjust","spacing").text(t));
</script></body></html>
